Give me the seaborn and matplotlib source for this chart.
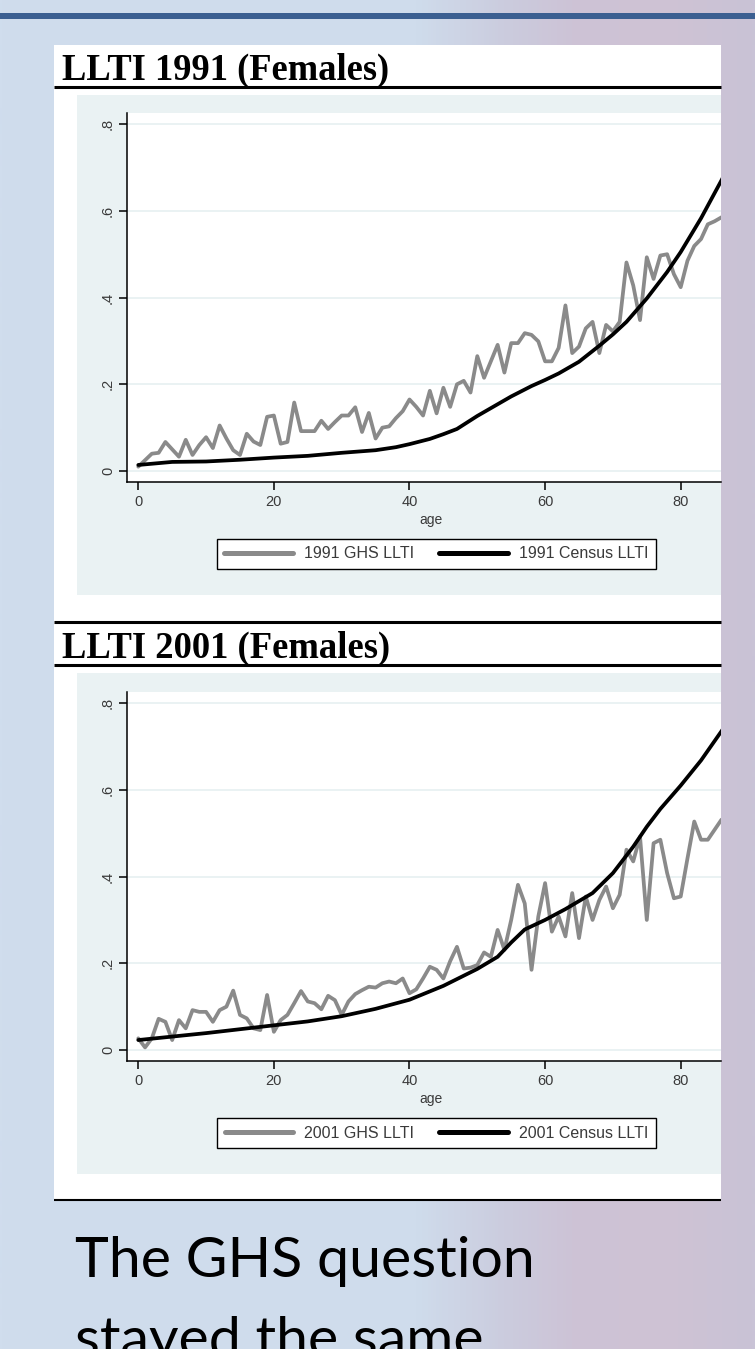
import numpy as np
import pandas as pd
import matplotlib
matplotlib.use("Agg")
import matplotlib.pyplot as plt
import seaborn as sns
from matplotlib.patches import Rectangle
from matplotlib.colors import LinearSegmentedColormap
from matplotlib.lines import Line2D

# ---------------- data ----------------
ages = list(range(0, 88))
ghs_1991 = [0.010, 0.025, 0.040, 0.042, 0.067, 0.050, 0.033, 0.072, 0.037, 0.060,
            0.078, 0.053, 0.105, 0.075, 0.048, 0.037, 0.086, 0.068, 0.060, 0.125,
            0.128, 0.063, 0.067, 0.158, 0.092, 0.092, 0.092, 0.116, 0.097, 0.113,
            0.128, 0.128, 0.147, 0.090, 0.134, 0.075, 0.100, 0.103, 0.122, 0.138,
            0.165, 0.148, 0.128, 0.185, 0.133, 0.192, 0.148, 0.200, 0.208, 0.181,
            0.265, 0.215, 0.253, 0.291, 0.227, 0.295, 0.295, 0.318, 0.314, 0.299,
            0.253, 0.253, 0.284, 0.382, 0.272, 0.287, 0.329, 0.344, 0.272, 0.337,
            0.322, 0.344, 0.481, 0.428, 0.348, 0.493, 0.443, 0.497, 0.500, 0.454,
            0.424, 0.485, 0.519, 0.535, 0.569, 0.576, 0.585, 0.590]
ghs_2001 = [0.027, 0.006, 0.027, 0.072, 0.065, 0.023, 0.069, 0.050, 0.092, 0.088,
            0.088, 0.065, 0.092, 0.100, 0.137, 0.081, 0.073, 0.050, 0.046, 0.127,
            0.042, 0.069, 0.081, 0.108, 0.136, 0.112, 0.108, 0.094, 0.125, 0.115,
            0.081, 0.112, 0.129, 0.138, 0.146, 0.144, 0.154, 0.158, 0.154, 0.165,
            0.131, 0.140, 0.165, 0.192, 0.185, 0.165, 0.205, 0.238, 0.188, 0.190,
            0.196, 0.225, 0.215, 0.277, 0.231, 0.300, 0.381, 0.338, 0.185, 0.308,
            0.385, 0.273, 0.308, 0.262, 0.362, 0.258, 0.354, 0.300, 0.346, 0.377,
            0.327, 0.358, 0.462, 0.435, 0.492, 0.300, 0.477, 0.485, 0.408, 0.350,
            0.354, 0.442, 0.527, 0.485, 0.485, 0.508, 0.531, 0.540]
census_1991_age = [0, 5, 10, 15, 20, 25, 30, 35, 38, 40, 43, 45, 47, 50, 53, 55,
                   58, 60, 62, 65, 68, 70, 72, 75, 78, 80, 83, 86, 88]
census_1991 = [0.014, 0.021, 0.022, 0.026, 0.031, 0.035, 0.042, 0.048, 0.055, 0.062,
               0.074, 0.085, 0.097, 0.127, 0.154, 0.172, 0.196, 0.210, 0.225, 0.252,
               0.289, 0.315, 0.344, 0.398, 0.459, 0.505, 0.583, 0.670, 0.730]
census_2001_age = [0, 5, 10, 15, 20, 25, 30, 35, 40, 45, 50, 53, 55, 57, 60, 63,
                   67, 70, 73, 75, 77, 80, 83, 86, 88]
census_2001 = [0.023, 0.031, 0.039, 0.048, 0.057, 0.066, 0.078, 0.095, 0.116, 0.148,
               0.187, 0.215, 0.248, 0.278, 0.300, 0.325, 0.362, 0.408, 0.469, 0.515,
               0.556, 0.610, 0.668, 0.735, 0.780]
yticks = [0, 0.2, 0.4, 0.6, 0.8]
ytick_labels = ["0", ".2", ".4", ".6", ".8"]
xticks = [0, 20, 40, 60, 80]
titles = ["LLTI 1991 (Females)", "LLTI 2001 (Females)"]
legend_labels = [["1991 GHS LLTI", "1991 Census LLTI"],
                 ["2001 GHS LLTI", "2001 Census LLTI"]]
caption = ["The GHS question", "stayed the same"]

# ---------------- styling ----------------
W, H, DPI = 755, 1349, 100
sns.set_style("white")
plt.rcParams['font.family'] = ['Liberation Sans', 'DejaVu Sans']

GRAPH_BG = '#eaf2f3'
GHS_COL = '#8a8a8a'
TICK_COL = '#3a3a3a'

fig = plt.figure(figsize=(W / DPI, H / DPI), dpi=DPI)
renderer = fig.canvas.get_renderer()

bg = fig.add_axes([0, 0, 1, 1], zorder=0)
stops = [(0.0, (208, 221, 237)), (0.55, (207, 220, 236)), (0.67, (203, 204, 222)),
         (0.76, (205, 195, 214)), (0.88, (207, 194, 212)), (1.0, (201, 195, 214))]
cmap = LinearSegmentedColormap.from_list('bg', [(p, tuple(v / 255 for v in c)) for p, c in stops])
bg.imshow(np.linspace(0, 1, W)[None, :], cmap=cmap, aspect='auto',
          extent=(0, W, H, 0), interpolation='bilinear')
bg.set_xlim(0, W)
bg.set_ylim(H, 0)
bg.axis('off')

# slide top bar
bg.add_patch(Rectangle((0, 13), W, 6, fc='#3b5f91', ec='none'))
# white chart panel
PL, PR = 54, 720.7
bg.add_patch(Rectangle((PL, 45), PR - PL, 1200 - 45, fc='white', ec='none'))
# graph regions
bg.add_patch(Rectangle((76.7, 94.5), PR - 76.7, 595 - 94.5, fc=GRAPH_BG, ec='none'))
bg.add_patch(Rectangle((76.7, 673), PR - 76.7, 1174 - 673, fc=GRAPH_BG, ec='none'))
for yy, lw in [(87, 2.2), (622, 2.2), (665, 2.2), (1200, 1.5)]:
    bg.plot([PL, PR], [yy, yy], color='black', lw=lw, solid_capstyle='butt')


def fit(t, target):
    w = t.get_window_extent(renderer).width
    t.set_fontsize(t.get_fontsize() * target / w)


for title, base in zip(titles, [80, 658]):
    t = bg.text(62, base, title, family=['Liberation Serif', 'DejaVu Serif'],
                weight='bold', fontsize=22, va='baseline', ha='left', color='black')
    fit(t, 328)

c1 = bg.text(74.6, 1277, caption[0], family=['Lato', 'DejaVu Sans'], fontsize=40,
             va='baseline', ha='left', color='black')
fit(c1, 459)
bg.text(74.6, 1357, caption[1], family=['Lato', 'DejaVu Sans'], fontsize=c1.get_fontsize(),
        va='baseline', ha='left', color='black')

# ---------------- chart panels ----------------
AX_L, AX_R = 127.3, 720.7
panels = [
    dict(top=113.3, bottom=482.3, ghs=ghs_1991, cage=census_1991_age, cen=census_1991, leg_y=554),
    dict(top=692.3, bottom=1061.3, ghs=ghs_2001, cage=census_2001_age, cen=census_2001, leg_y=1133),
]

for i, p in enumerate(panels):
    ax = fig.add_axes([AX_L / W, 1 - p['bottom'] / H, (AX_R - AX_L) / W,
                       (p['bottom'] - p['top']) / H], zorder=2)
    ax.set_facecolor('white')
    ax.grid(axis='y', color=GRAPH_BG, lw=1.4)
    ax.grid(axis='x', visible=False)
    ax.set_axisbelow(True)
    sns.lineplot(x=ages, y=p['ghs'], ax=ax, color=GHS_COL, lw=2.7, estimator=None,
                 solid_joinstyle='round', solid_capstyle='round')
    sns.lineplot(x=p['cage'], y=p['cen'], ax=ax, color='black', lw=2.7, estimator=None,
                 solid_joinstyle='round', solid_capstyle='round')
    ax.set_xlim(-1.62, 85.9)
    ax.set_ylim(-0.026, 0.825)
    for s in ['top', 'right']:
        ax.spines[s].set_visible(False)
    for s in ['left', 'bottom']:
        ax.spines[s].set_color('black')
        ax.spines[s].set_linewidth(1.1)
    ax.set_yticks(yticks, ytick_labels, rotation=90, va='center')
    ax.set_xticks(xticks)
    ax.tick_params(direction='out', length=5.8, width=1.1, color='black',
                   labelsize=10.5, labelcolor=TICK_COL, pad=3, left=True, bottom=True)
    ax.set_xlabel('age', fontsize=10, color=TICK_COL)
    ax.set_ylabel('')
    ax.xaxis.set_label_coords((431 - AX_L) / (AX_R - AX_L), -37.7 / (p['bottom'] - p['top']))
    ax.xaxis.label.set_va('center')
    handles = [Line2D([], [], color=GHS_COL, lw=3.6), Line2D([], [], color='black', lw=3.6)]
    leg = ax.legend(handles, legend_labels[i], loc='center',
                    bbox_to_anchor=(436.5 / W, 1 - p['leg_y'] / H), bbox_transform=fig.transFigure,
                    ncol=2, frameon=True, fancybox=False, edgecolor='black', framealpha=1,
                    fontsize=11.5, handlelength=4.3, handletextpad=0.7, columnspacing=1.55,
                    borderpad=0.45)
    leg.get_frame().set_linewidth(1.0)
    for t in leg.get_texts():
        t.set_color(TICK_COL)

fig.savefig('out.png', dpi=DPI)
